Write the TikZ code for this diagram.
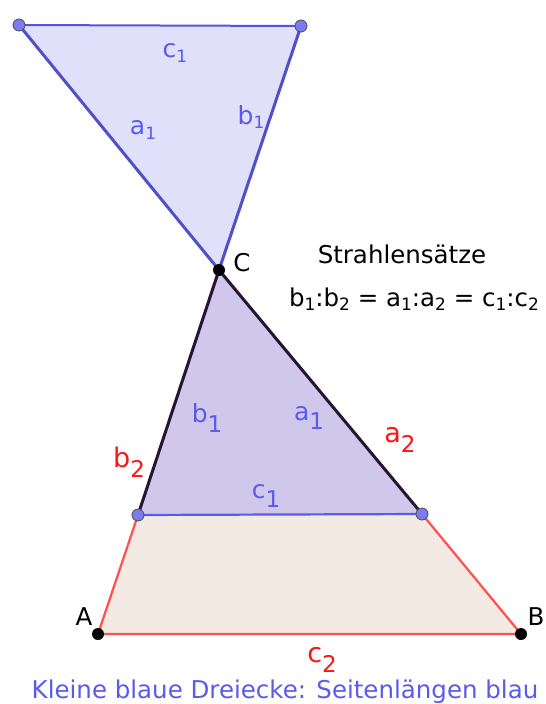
\documentclass[tikz,border=0pt]{standalone}
\usepackage{fontspec}
\setmainfont{DejaVu Sans}
\definecolor{gblue}{RGB}{90,90,235}
\definecolor{gedge}{RGB}{80,80,200}
\definecolor{gfillA}{RGB}{224,224,250}
\definecolor{gfillB}{RGB}{208,200,234}
\definecolor{gfillC}{RGB}{243,234,228}
\definecolor{gred}{RGB}{255,20,20}
\definecolor{gdark}{RGB}{40,20,50}
\newcommand{\mysub}[1]{\raisebox{-0.3ex}{\fontsize{17}{17}\selectfont #1}}
\newcommand{\bigsub}[1]{\raisebox{-0.7ex}{\fontsize{23}{23}\selectfont #1}}
\tikzset{
  bpt/.style={circle,fill=gblue!80,draw=black!70,line width=0.8pt,inner sep=0pt,minimum size=12pt},
  kpt/.style={circle,fill=black,inner sep=0pt,minimum size=12pt},
  blab/.style={text=gblue,font=\fontsize{25}{25}\selectfont},
  rlab/.style={text=gred,font=\fontsize{27}{27}\selectfont},
  klab/.style={text=black,font=\fontsize{24.5}{24.5}\selectfont}
}
\begin{document}
\begin{tikzpicture}[x=1pt,y=-1pt]
\useasboundingbox (0,0) rectangle (546,704);
\coordinate (P) at (19,25);
\coordinate (Q) at (301,26);
\coordinate (C) at (219,270);
\coordinate (L) at (138,515);
\coordinate (R) at (422,514);
\coordinate (A) at (98,634);
\coordinate (B) at (521,634);
% fills
\fill[gfillA] (P) -- (Q) -- (C) -- cycle;
\fill[gfillC] (L) -- (R) -- (B) -- (A) -- cycle;
\fill[gfillB] (C) -- (L) -- (R) -- cycle;
% edges
\draw[gedge!50!gblue,line width=2pt] (P) -- (Q);
\draw[gedge,line width=3pt] (P) -- (C);
\draw[gedge,line width=3pt] (Q) -- (C);
\draw[gred!75,line width=2.2pt] (L) -- (A) -- (B) -- (R);
\draw[gdark,line width=3pt] (L) -- (C) -- (R);
\draw[gblue,line width=2.2pt] (L) -- (R);
% points
\node[bpt] (p) at (P) {};
\node[bpt] (q) at (Q) {};
\node[bpt] (l) at (L) {};
\node[bpt] (r) at (R) {};
\node[kpt] (c) at (C) {};
\node[kpt] (a) at (A) {};
\node[kpt] (b) at (B) {};
% labels
\node[blab] (lc1) at (175,53) {c\mysub{1}};
\node[blab] (la1) at (143,130) {a\mysub{1}};
\node[blab] (lb1) at (251,117) {b\mysub{1}};
\node[klab] (lC) at (242,263) {C};
\node[klab] (title) at (402,254) {Strahlensätze};
\node[klab] (form) at (414,299) {b\mysub{1}:b\mysub{2} = a\mysub{1}:a\mysub{2} = c\mysub{1}:c\mysub{2}};
\node[blab] (lb1b) at (207,418) {b\bigsub{1}};
\node[blab] (la1b) at (309,418) {a\bigsub{1}};
\node[rlab] (la2) at (400,440) {a\bigsub{2}};
\node[rlab] (lb2) at (129,462) {b\bigsub{2}};
\node[blab] (lc1b) at (266,496) {c\bigsub{1}};
\node[klab] (lA) at (84,617) {A};
\node[klab] (lB) at (536,617) {B};
\node[rlab] (lc2) at (322,660) {c\bigsub{2}};
\node[text=gblue,font=\fontsize{24.5}{24.5}\selectfont] (foot) at (285,692) {Kleine blaue Dreiecke: Seitenlängen blau};
\end{tikzpicture}
\end{document}
